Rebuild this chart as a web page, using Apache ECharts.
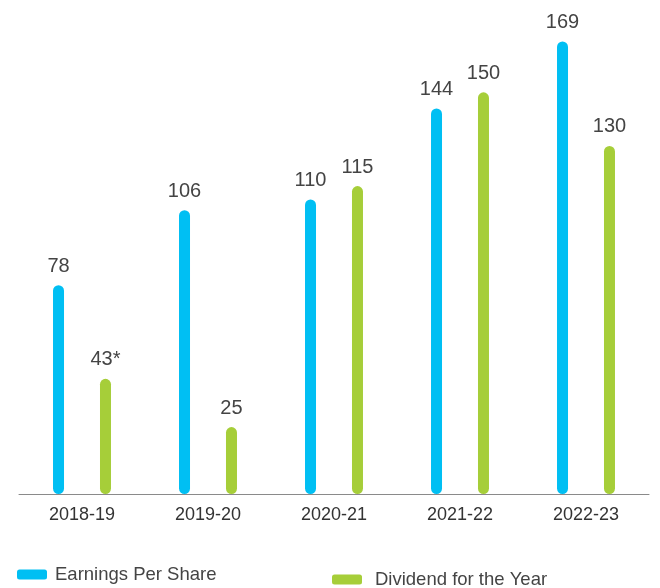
<!DOCTYPE html>
<html><head><meta charset="utf-8">
<script src="https://cdn.jsdelivr.net/npm/echarts@6/dist/echarts.min.js"></script>
<style>html,body{margin:0;padding:0;background:#fff}#c{width:660px;height:588px}</style>
</head><body><div id="c"></div>
<script>
const categories = ['2018-19','2019-20','2020-21','2021-22','2022-23'];
const eps = [78,106,110,144,169];
const dividend = [43,25,115,150,130];
const dividendLabels = ['43*','25','115','150','130'];

const FONT = 'Liberation Sans, Arial, Helvetica, sans-serif';
const chart = echarts.init(document.getElementById('c'));
const labelStyle = {show:true, position:'top', distance:9, color:'#444', fontSize:20, fontFamily:FONT};
chart.setOption({
  animation:false,
  grid:{left:19, right:11, top:12, bottom:94},
  legend:[
    {data:['Earnings Per Share'], left:12, top:560, itemWidth:30, itemHeight:10,
     icon:'roundRect', textStyle:{color:'#444', fontSize:18.5, fontFamily:FONT, padding:[0,0,0,3]}},
    {data:['Dividend for the Year'], left:327, top:565, itemWidth:30, itemHeight:10,
     icon:'roundRect', textStyle:{color:'#444', fontSize:18.5, fontFamily:FONT, padding:[2,0,0,8]}}
  ],
  xAxis:{type:'category', data:categories,
    axisLine:{lineStyle:{color:'#8a8a8a', width:1}}, axisTick:{show:false},
    axisLabel:{color:'#333', fontSize:18, margin:12, fontFamily:FONT}},
  yAxis:{type:'value', min:0, max:180, show:false, splitLine:{show:false}},
  series:[
    {name:'Earnings Per Share', type:'bar', data:eps, barWidth:11, barGap:'327%',
     itemStyle:{color:'#00BFF3', borderRadius:6}, label:labelStyle},
    {name:'Dividend for the Year', type:'bar', data:dividend, barWidth:11,
     itemStyle:{color:'#A6CE39', borderRadius:6},
     label:Object.assign({}, labelStyle, {formatter:p=>dividendLabels[p.dataIndex]})}
  ]
});
</script></body></html>
